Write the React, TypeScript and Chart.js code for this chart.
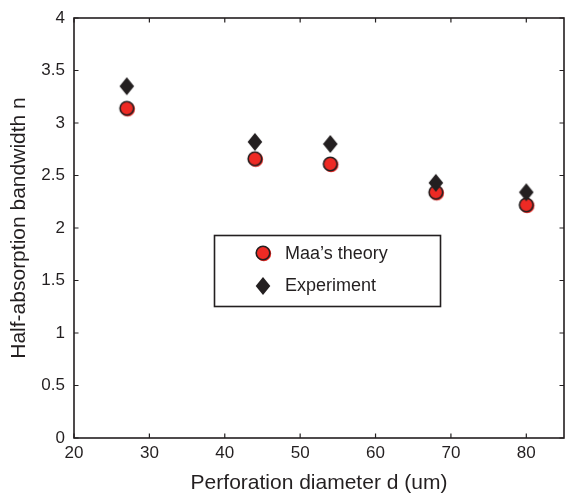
import React, { useEffect, useRef } from "react";
import { Chart, registerables } from "chart.js";

Chart.register(...registerables);

const diameters = [27, 44, 54, 68, 80];
const maaTheory = [3.14, 2.66, 2.61, 2.34, 2.22];
const experiment = [3.35, 2.82, 2.8, 2.43, 2.34];
const xTicks = [20, 30, 40, 50, 60, 70, 80];
const yTicks = [0, 0.5, 1, 1.5, 2, 2.5, 3, 3.5, 4];
const seriesNames = ["Maa\u2019s theory", "Experiment"];
const xTitle = "Perforation diameter d (um)";
const yTitle = "Half-absorption bandwidth n";

const RED = "#ee2a24";
const DARK = "#231f20";
const FONT = "'Liberation Sans', Arial, sans-serif";

function makeCircle(): HTMLCanvasElement {
  const c = document.createElement("canvas");
  c.width = 20;
  c.height = 20;
  const ctx = c.getContext("2d")!;
  ctx.fillStyle = RED;
  ctx.beginPath();
  ctx.arc(10.8, 10.8, 7.4, 0, Math.PI * 2);
  ctx.fill();
  ctx.beginPath();
  ctx.arc(10, 10, 6.8, 0, Math.PI * 2);
  ctx.fillStyle = RED;
  ctx.fill();
  ctx.lineWidth = 1.6;
  ctx.strokeStyle = DARK;
  ctx.stroke();
  return c;
}

function makeDiamond(): HTMLCanvasElement {
  const c = document.createElement("canvas");
  c.width = 16;
  c.height = 20;
  const ctx = c.getContext("2d")!;
  ctx.fillStyle = DARK;
  ctx.beginPath();
  ctx.moveTo(8, 1);
  ctx.lineTo(15.3, 10);
  ctx.lineTo(8, 19);
  ctx.lineTo(0.7, 10);
  ctx.closePath();
  ctx.fill();
  return c;
}

export default function App() {
  const ref = useRef<HTMLCanvasElement | null>(null);

  useEffect(() => {
    const circle = makeCircle();
    const diamond = makeDiamond();

    const framePlugin = {
      id: "frame",
      afterDraw(chart: any) {
        const { ctx, chartArea } = chart;
        const { left, right, top, bottom } = chartArea;
        const xs = chart.scales.x;
        const ys = chart.scales.y;
        ctx.save();
        ctx.strokeStyle = DARK;
        ctx.lineWidth = 1.6;
        ctx.strokeRect(left, top, right - left, bottom - top);
        ctx.lineWidth = 1.2;
        const tl = 4.5;
        ctx.beginPath();
        xTicks.forEach((v) => {
          const px = xs.getPixelForValue(v);
          ctx.moveTo(px, bottom);
          ctx.lineTo(px, bottom - tl);
          ctx.moveTo(px, top);
          ctx.lineTo(px, top + tl);
        });
        yTicks.forEach((v) => {
          const py = ys.getPixelForValue(v);
          ctx.moveTo(left, py);
          ctx.lineTo(left + tl, py);
          ctx.moveTo(right, py);
          ctx.lineTo(right - tl, py);
        });
        ctx.stroke();

        // legend box
        const bx = 214.5, by = 235.5, bw = 226, bh = 71;
        ctx.lineWidth = 1.6;
        ctx.fillStyle = "#ffffff";
        ctx.fillRect(bx, by, bw, bh);
        ctx.strokeRect(bx, by, bw, bh);
        ctx.drawImage(circle, 263 - 10, 253 - 10);
        ctx.drawImage(diamond, 263 - 8, 286 - 10);
        ctx.fillStyle = DARK;
        ctx.font = `18px ${FONT}`;
        ctx.textBaseline = "middle";
        ctx.textAlign = "left";
        ctx.fillText(seriesNames[0], 285, 254);
        ctx.fillText(seriesNames[1], 285, 286);
        ctx.restore();
      },
    };

    const chart = new Chart(ref.current!, {
      type: "scatter",
      data: {
        datasets: [
          {
            label: seriesNames[0],
            data: diameters.map((d, i) => ({ x: d, y: maaTheory[i] })),
            pointStyle: circle as any,
            pointRadius: 8,
            order: 2,
          },
          {
            label: seriesNames[1],
            data: diameters.map((d, i) => ({ x: d, y: experiment[i] })),
            pointStyle: diamond as any,
            pointRadius: 8,
            order: 1,
          },
        ],
      },
      options: {
        animation: false,
        responsive: false,
        maintainAspectRatio: false,
        layout: { autoPadding: false, padding: { left: 0, right: 1, top: 18, bottom: 0 } },
        plugins: {
          legend: { display: false },
          tooltip: { enabled: false },
        },
        scales: {
          x: {
            type: "linear",
            min: 20,
            max: 85,
            afterBuildTicks: (s: any) => {
              s.ticks = xTicks.map((v) => ({ value: v }));
            },
            afterFit: (s: any) => {
              s.height = 58;
              s.paddingLeft = 0;
              s.paddingRight = 0;
            },
            grid: { display: false, drawTicks: false },
            border: { display: false },
            ticks: {
              color: DARK,
              font: { family: FONT, size: 17 },
              padding: 5,
              maxRotation: 0,
              callback: (v: any) => String(v),
            },
            title: {
              display: true,
              text: xTitle,
              color: DARK,
              font: { family: FONT, size: 21 },
              padding: { top: 2, bottom: 0 },
            },
          },
          y: {
            type: "linear",
            min: 0,
            max: 4,
            afterBuildTicks: (s: any) => {
              s.ticks = yTicks.map((v) => ({ value: v }));
            },
            afterFit: (s: any) => {
              s.width = 74;
              s.paddingTop = 0;
              s.paddingBottom = 0;
            },
            grid: { display: false, drawTicks: false },
            border: { display: false },
            ticks: {
              color: DARK,
              font: { family: FONT, size: 17 },
              padding: 9,
              callback: (v: any) => String(v),
            },
            title: {
              display: true,
              text: yTitle,
              color: DARK,
              font: { family: FONT, size: 21 },
              padding: { top: 7, bottom: 0 },
            },
          },
        },
      },
      plugins: [framePlugin],
    });
    return () => chart.destroy();
  }, []);

  return (
    <div style={{ position: "fixed", left: 0, top: 0, width: 565, height: 496, background: "#fff" }}>
      <canvas ref={ref} width={565} height={496} style={{ width: 565, height: 496 }} />
    </div>
  );
}
